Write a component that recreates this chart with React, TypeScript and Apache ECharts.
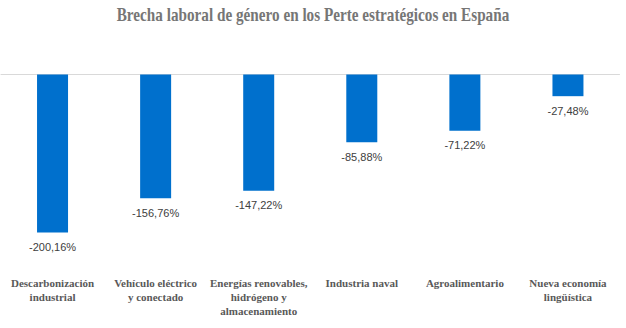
import React, { useEffect, useRef } from "react";
import * as echarts from "echarts";

const titleText = "Brecha laboral de género en los Perte estratégicos en España";
const categories = [
  "Descarbonización\nindustrial",
  "Vehículo eléctrico\ny conectado",
  "Energías renovables,\nhidrógeno y\nalmacenamiento",
  "Industria naval",
  "Agroalimentario",
  "Nueva economía\nlingüística",
];
const values = [-200.16, -156.76, -147.22, -85.88, -71.22, -27.48];

export default function App() {
  const ref = useRef<HTMLDivElement>(null);
  useEffect(() => {
    const chart = echarts.init(ref.current!, undefined, { renderer: "svg" });
    chart.setOption({
      animation: false,
      graphic: [
        {
          type: "text",
          x: 313,
          y: 15,
          scaleX: 0.845,
          style: {
            text: titleText,
            fontFamily: "Liberation Serif",
            fontWeight: "bold",
            fontSize: 18,
            fill: "#767676",
            textAlign: "center",
            textVerticalAlign: "middle",
          },
        },
      ],
      grid: { left: 1, right: 6.5, top: 74.5, height: 173.6 },
      xAxis: [
        {
          type: "category",
          data: categories,
          position: "top",
          axisLine: { show: true, onZero: false, lineStyle: { color: "#d9d9d9", width: 1 } },
          axisTick: { show: false },
          axisLabel: { show: false },
        },
        {
          type: "category",
          data: categories,
          position: "bottom",
          axisLine: { show: false, onZero: false },
          axisTick: { show: false },
          axisLabel: {
            margin: 28,
            interval: 0,
            fontFamily: "Liberation Serif",
            fontWeight: "bold",
            fontSize: 11,
            lineHeight: 14,
            color: "#595959",
            verticalAlign: "top",
          },
        },
      ],
      yAxis: {
        type: "value",
        min: -220,
        max: 0,
        show: false,
        splitLine: { show: false },
      },
      series: [
        {
          type: "bar",
          data: values,
          barWidth: 31,
          itemStyle: { color: "#0070cd" },
          label: {
            show: true,
            position: "bottom",
            distance: 9,
            fontFamily: "Liberation Sans",
            fontSize: 11,
            color: "#404040",
            formatter: (p: any) => p.value.toFixed(2).replace(".", ",") + "%",
          },
        },
      ],
    });
    return () => chart.dispose();
  }, []);
  return (
    <div
      ref={ref}
      style={{ position: "absolute", left: 0, top: 0, width: 626, height: 328 }}
    />
  );
}
